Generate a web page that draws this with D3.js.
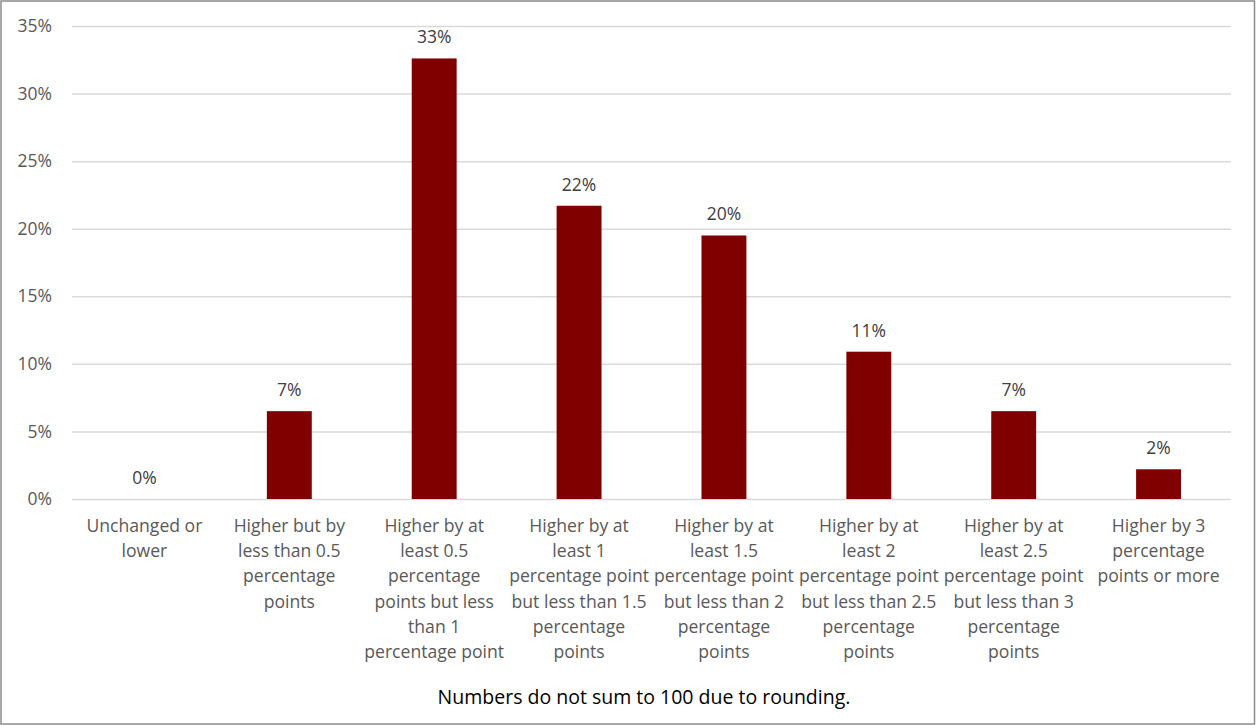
<!DOCTYPE html>
<html>
<head>
<meta charset="utf-8">
<script src="https://cdn.jsdelivr.net/npm/d3@7"></script>
<style>
  html, body { margin: 0; padding: 0; background: #fff; }
  svg { display: block; }
  text { font-family: "Open Sans", Lato, sans-serif; }
</style>
</head>
<body>
<svg id="chart" width="1256" height="725"></svg>
<script>
const categories = [
  "Unchanged or\nlower",
  "Higher but by\nless than 0.5\npercentage\npoints",
  "Higher by at\nleast 0.5\npercentage\npoints but less\nthan 1\npercentage point",
  "Higher by at\nleast 1\npercentage point\nbut less than 1.5\npercentage\npoints",
  "Higher by at\nleast 1.5\npercentage point\nbut less than 2\npercentage\npoints",
  "Higher by at\nleast 2\npercentage point\nbut less than 2.5\npercentage\npoints",
  "Higher by at\nleast 2.5\npercentage point\nbut less than 3\npercentage\npoints",
  "Higher by 3\npercentage\npoints or more"
];
const values = [0, 6.5, 32.6, 21.7, 19.5, 10.9, 6.5, 2.2];
const valueLabels = ["0%", "7%", "33%", "22%", "20%", "11%", "7%", "2%"];
const yTicks = [0, 5, 10, 15, 20, 25, 30, 35];
const footnote = "Numbers do not sum to 100 due to rounding.";

const svg = d3.select("#chart");
const W = 1256, H = 725;
const m = { left: 72, right: 1231, top: 26, bottom: 499 };

svg.append("rect").attr("x", 1).attr("y", 1).attr("width", W - 2.5).attr("height", H - 2)
  .attr("fill", "#fff").attr("stroke", "#8c8c8c").attr("stroke-width", 1.5);

const x = d3.scaleBand().domain(d3.range(categories.length))
  .range([m.left, m.right]).paddingInner(0.69).paddingOuter(0.345);
const y = d3.scaleLinear().domain([0, 35]).range([m.bottom, m.top]);

// gridlines
const yAxis = d3.axisLeft(y).tickValues(yTicks).tickFormat(d => d + "%")
  .tickSize(-(m.right - m.left)).tickPadding(20);
const gy = svg.append("g").attr("transform", `translate(${m.left},0)`).call(yAxis);
gy.select(".domain").remove();
gy.selectAll(".tick line").attr("stroke", "#d9d9d9").attr("stroke-width", 1.5);
gy.selectAll(".tick text").attr("fill", "#595959").attr("font-size", 17.5)
  .attr("font-family", "'Open Sans', sans-serif");

// bars
svg.append("g").selectAll("rect").data(values).join("rect")
  .attr("x", (d, i) => x(i)).attr("width", x.bandwidth())
  .attr("y", d => y(d)).attr("height", d => y(0) - y(d))
  .attr("fill", "#800000");

// value labels
svg.append("g").selectAll("text").data(values).join("text")
  .attr("x", (d, i) => x(i) + x.bandwidth() / 2)
  .attr("y", d => y(d) - 15)
  .attr("text-anchor", "middle").attr("font-size", 17.5).attr("fill", "#404040")
  .text((d, i) => valueLabels[i]);

// category labels
const gx = svg.append("g");
categories.forEach((c, i) => {
  const t = gx.append("text").attr("text-anchor", "middle").attr("font-size", 17.6)
    .attr("fill", "#595959");
  c.split("\n").forEach((line, j) => {
    t.append("tspan").attr("x", x(i) + x.bandwidth() / 2).attr("y", 532 + j * 25.2).text(line);
  });
});

svg.append("text").attr("x", 644).attr("y", 704).attr("text-anchor", "middle")
  .attr("font-size", 19.5).attr("fill", "#000").text(footnote);
</script>
</body>
</html>
